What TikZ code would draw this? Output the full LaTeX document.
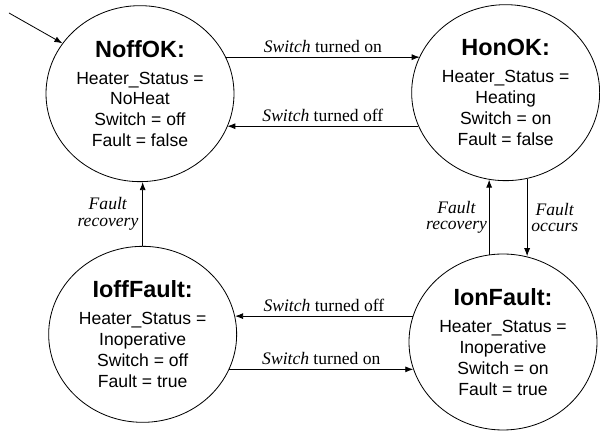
\documentclass[tikz,border=0pt]{standalone}
\usepackage{fontspec}
\setmainfont{Liberation Serif}
\newfontfamily\arialfont{Liberation Sans}
\usetikzlibrary{shapes.geometric,arrows.meta}

\begin{document}
\begin{tikzpicture}[
    state/.style={draw, ellipse, line width=0.7pt, minimum width=5.64cm, minimum height=5.28cm,
      inner sep=0pt, align=center, font=\arialfont\fontsize{15}{17.9}\selectfont},
    trans/.style={-{Latex[length=2.4mm,width=1.8mm]}, line width=0.7pt},
    lbl/.style={font=\fontsize{15}{14}\selectfont, align=center}
  ]
      \useasboundingbox (0,0) rectangle (18,12.93);

      % States
      \node[state] (NoffOK) at (4.2,10.12) {{\fontsize{20}{24}\bfseries NoffOK:}\\[5pt]
        Heater\_Status =\\ NoHeat\\ Switch = off\\ Fault = false};
      \node[state] (HonOK) at (15.17,10.15) {{\fontsize{20}{24}\bfseries HonOK:}\\[5pt]
        Heater\_Status =\\ Heating\\ Switch = on\\ Fault = false};
      \node[state] (IoffFault) at (4.28,2.90) {{\fontsize{20}{24}\bfseries IoffFault:}\\[5pt]
        Heater\_Status =\\ Inoperative\\ Switch = off\\ Fault = true};
      \node[state] (IonFault) at (15.09,2.67) {{\fontsize{20}{24}\bfseries IonFault:}\\[5pt]
        Heater\_Status =\\ Inoperative\\ Switch = on\\ Fault = true};

      % Initial state
      \coordinate (start) at (0.27,12.54);
      \draw[trans] (start) -- (NoffOK.147);

      % Switch transitions
      \draw[trans] (NoffOK.23) -- node[lbl, above] {\textit{Switch} turned on} (NoffOK.23 -| HonOK.157);
      \draw[trans] (HonOK.201) -- node[lbl, above] {\textit{Switch} turned off} (HonOK.201 -| NoffOK.339);
      \draw[trans] (IonFault.164) -- node[lbl, above] {\textit{Switch} turned off} (IonFault.164 -| IoffFault.11);
      \draw[trans] (IoffFault.338) -- node[lbl, above] {\textit{Switch} turned on} (IoffFault.338 -| IonFault.197);

      % Fault transitions
      \draw[trans] (IoffFault.north) -- node[lbl, left] {\textit{Fault}\\\textit{recovery}} (IoffFault.north |- NoffOK.south);
      \draw[trans] (IonFault.99) -- node[lbl, left, inner sep=1.5pt] {\textit{Fault}\\\textit{recovery}} (IonFault.99 |- HonOK.259);
      \draw[trans] (HonOK.284) -- node[lbl, right] {\textit{Fault}\\\textit{occurs}} (HonOK.284 |- IonFault.75);
\end{tikzpicture}
\end{document}
